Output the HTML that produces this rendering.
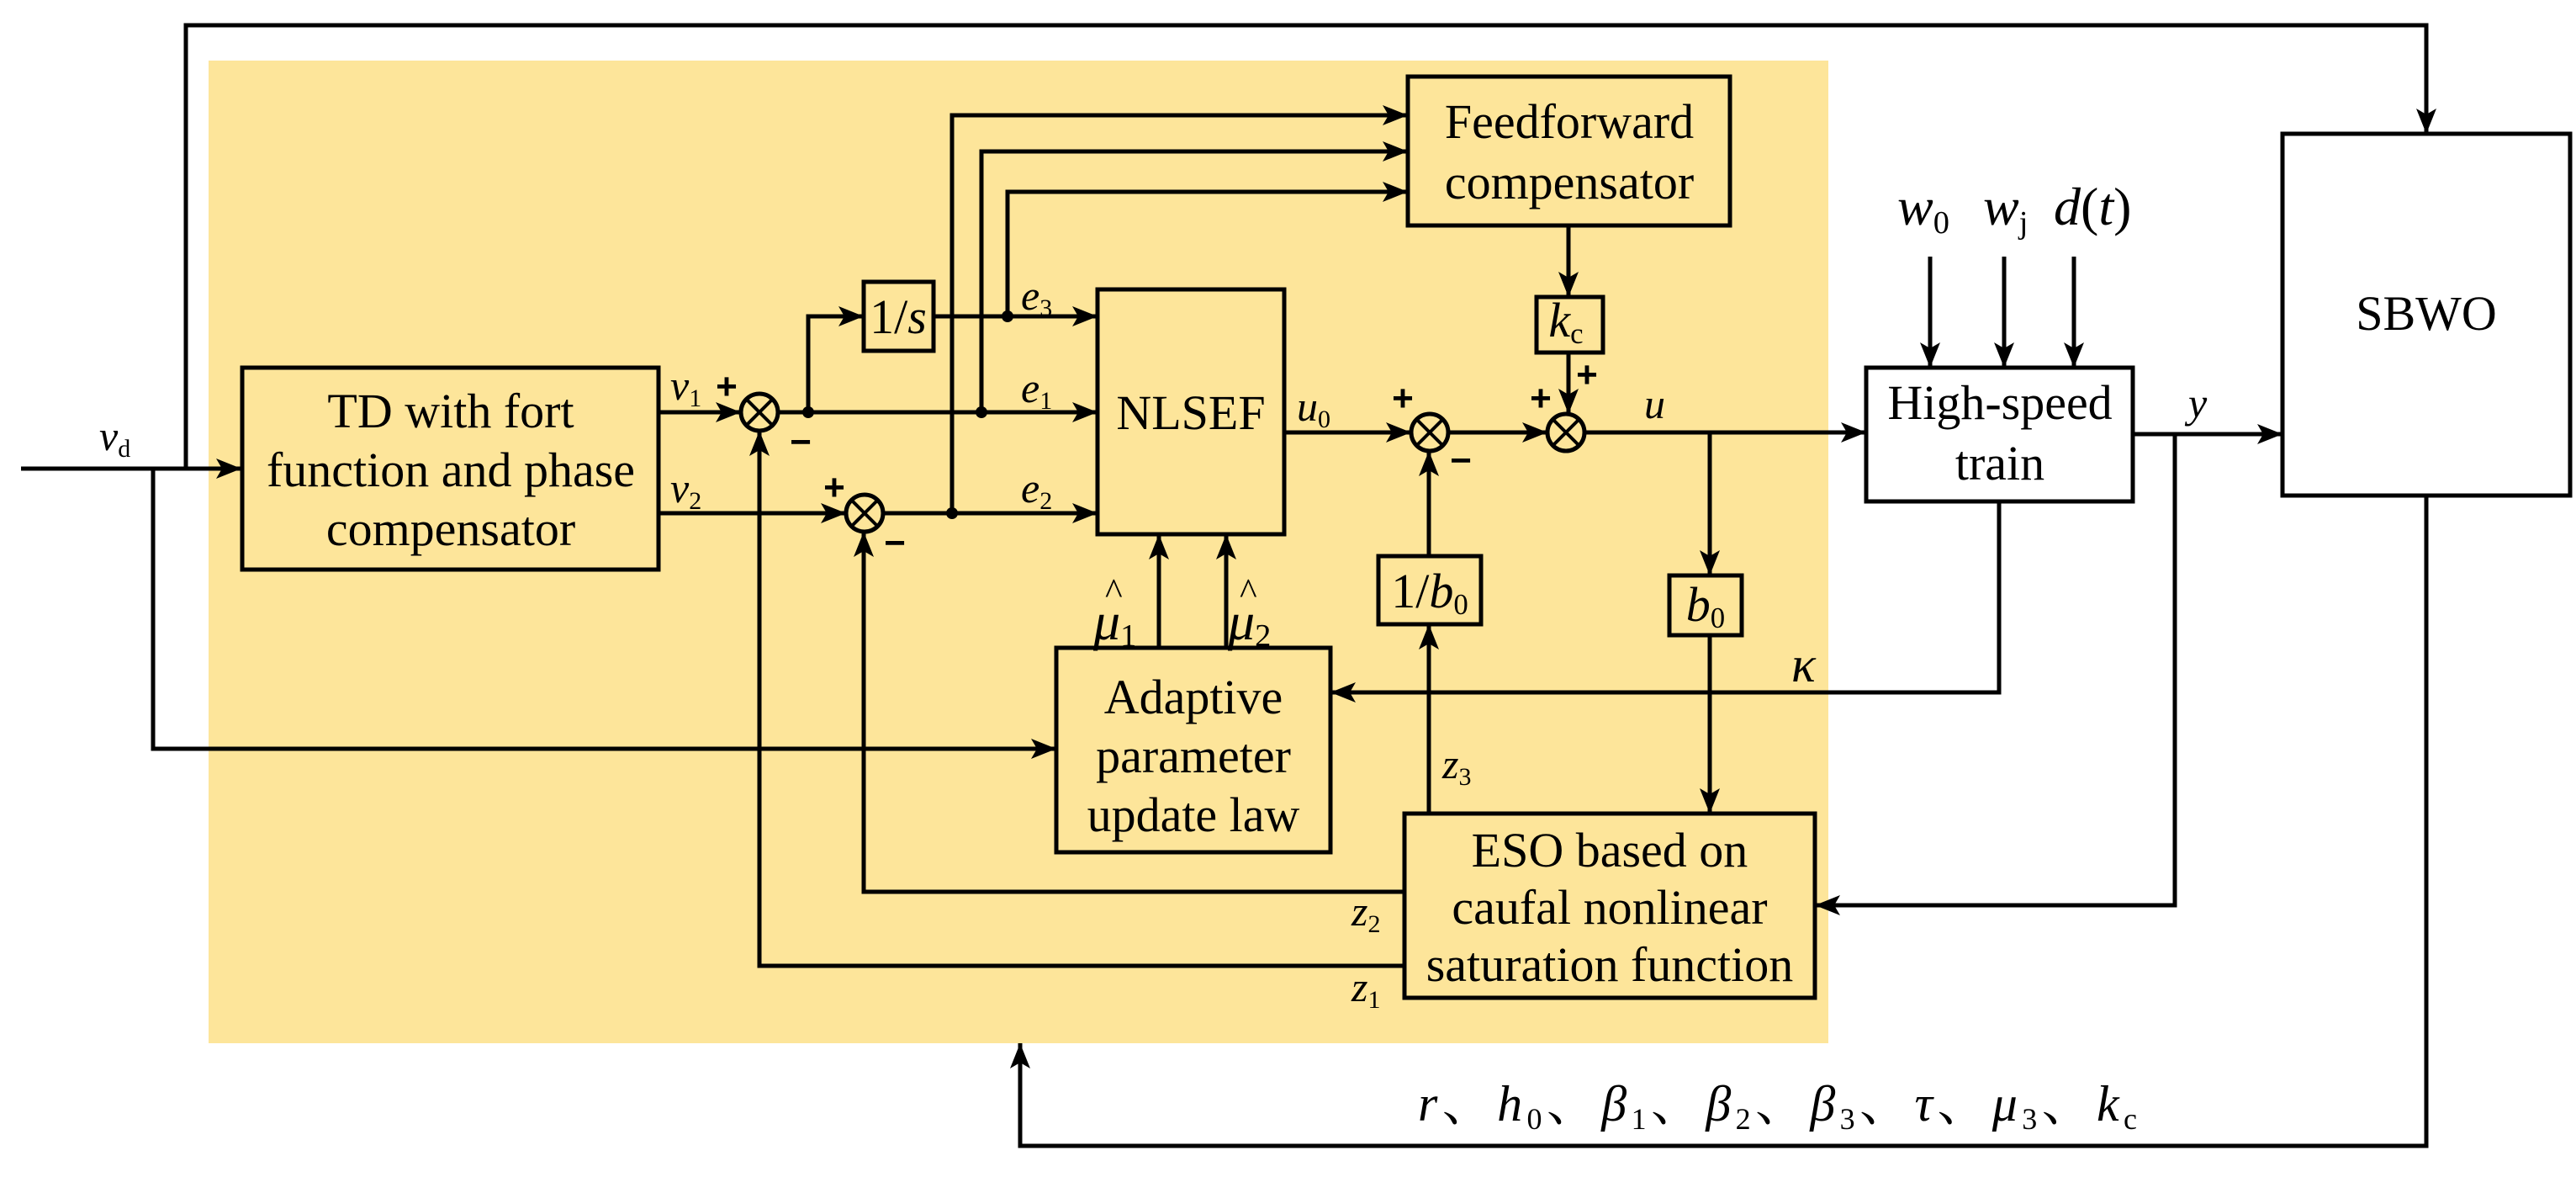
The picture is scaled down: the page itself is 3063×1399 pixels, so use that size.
<!DOCTYPE html>
<html><head><meta charset="utf-8"><style>
html,body{margin:0;padding:0;background:#fff;}
svg{display:block;}
text{font-family:"Liberation Serif","Times New Roman",Tinos,"Nimbus Roman","FreeSerif","DejaVu Serif","Noto Serif CJK SC",serif;fill:#000;}
.b{font-size:58px;text-anchor:middle;}
.i{font-style:italic;}
.s{font-size:60%;font-style:normal;}
.sg{font-family:"Liberation Sans",sans-serif;font-weight:bold;font-size:44px;text-anchor:middle;}
.cj{font-family:"Liberation Serif","Noto Serif CJK SC","Noto Sans CJK SC",serif;font-style:normal;}
</style></head><body>
<svg width="3063" height="1399" viewBox="0 0 3063 1399" xmlns="http://www.w3.org/2000/svg">
<defs>
<marker id="a" viewBox="0 0 30 24" refX="30" refY="12" markerWidth="30" markerHeight="24" markerUnits="userSpaceOnUse" orient="auto"><path d="M0,0 L30,12 L0,24 L7,12 Z" fill="#000"/></marker>
</defs>
<rect x="248" y="72" width="1926" height="1168" fill="#FDE59A"/>
<g stroke="#000" stroke-width="5" fill="none">
<polyline points="221,557 221,30 2885,30 2885,159" marker-end="url(#a)"/>
<line x1="25" y1="557" x2="287" y2="557" marker-end="url(#a)"/>
<polyline points="182,557 182,890 1256,890" marker-end="url(#a)"/>
<rect x="288" y="437" width="495" height="240" fill="#FDE59A"/>
<rect x="1027" y="335" width="83" height="82" fill="#FDE59A"/>
<rect x="1305" y="344" width="222" height="291" fill="#FDE59A"/>
<rect x="1674" y="91" width="383" height="177" fill="#FDE59A"/>
<rect x="1827" y="353" width="79" height="66" fill="#FDE59A"/>
<rect x="1639" y="661" width="122" height="81" fill="#FDE59A"/>
<rect x="1985" y="684" width="86" height="71" fill="#FDE59A"/>
<rect x="1256" y="770" width="326" height="243" fill="#FDE59A"/>
<rect x="1670" y="967" width="488" height="219" fill="#FDE59A"/>
<rect x="2219" y="437" width="317" height="159" fill="#fff"/>
<rect x="2714" y="159" width="342" height="430" fill="#fff"/>
<circle cx="903" cy="490" r="22"/><circle cx="1028" cy="610" r="22"/>
<circle cx="1700" cy="514" r="22"/><circle cx="1862" cy="514" r="22"/>
<g stroke-width="4">
<path d="M887,474 L919,506 M919,474 L887,506"/>
<path d="M1012,594 L1044,626 M1044,594 L1012,626"/>
<path d="M1684,498 L1716,530 M1716,498 L1684,530"/>
<path d="M1846,498 L1878,530 M1878,498 L1846,530"/>
</g>
<line x1="783" y1="490" x2="881" y2="490" marker-end="url(#a)"/>
<line x1="783" y1="610" x2="1006" y2="610" marker-end="url(#a)"/>
<line x1="925" y1="490" x2="1305" y2="490" marker-end="url(#a)"/>
<polyline points="961,490 961,376 1027,376" marker-end="url(#a)"/>
<line x1="1110" y1="376" x2="1305" y2="376" marker-end="url(#a)"/>
<line x1="1050" y1="610" x2="1305" y2="610" marker-end="url(#a)"/>
<polyline points="1132,610 1132,137 1674,137" marker-end="url(#a)"/>
<polyline points="1167,490 1167,180 1674,180" marker-end="url(#a)"/>
<polyline points="1198,376 1198,228 1674,228" marker-end="url(#a)"/>
<line x1="1527" y1="514" x2="1678" y2="514" marker-end="url(#a)"/>
<line x1="1722" y1="514" x2="1840" y2="514" marker-end="url(#a)"/>
<line x1="1865" y1="268" x2="1865" y2="353" marker-end="url(#a)"/>
<line x1="1865" y1="419" x2="1865" y2="492" marker-end="url(#a)"/>
<line x1="1884" y1="514" x2="2219" y2="514" marker-end="url(#a)"/>
<line x1="2033" y1="514" x2="2033" y2="684" marker-end="url(#a)"/>
<line x1="2033" y1="755" x2="2033" y2="967" marker-end="url(#a)"/>
<line x1="1699" y1="967" x2="1699" y2="742" marker-end="url(#a)"/>
<line x1="1699" y1="661" x2="1699" y2="536" marker-end="url(#a)"/>
<line x1="1378" y1="770" x2="1378" y2="635" marker-end="url(#a)"/>
<line x1="1458" y1="770" x2="1458" y2="635" marker-end="url(#a)"/>
<polyline points="2377,596 2377,823 1582,823" marker-end="url(#a)"/>
<line x1="2295" y1="305" x2="2295" y2="437" marker-end="url(#a)"/>
<line x1="2383" y1="305" x2="2383" y2="437" marker-end="url(#a)"/>
<line x1="2466" y1="305" x2="2466" y2="437" marker-end="url(#a)"/>
<line x1="2536" y1="516" x2="2714" y2="516" marker-end="url(#a)"/>
<polyline points="2586,516 2586,1076 2158,1076" marker-end="url(#a)"/>
<polyline points="1670,1060 1027,1060 1027,632" marker-end="url(#a)"/>
<polyline points="1670,1148 903,1148 903,512" marker-end="url(#a)"/>
<polyline points="2885,589 2885,1362 1213,1362 1213,1240" marker-end="url(#a)"/>
</g>
<g fill="#000"><circle cx="961" cy="490" r="7"/><circle cx="1167" cy="490" r="7"/><circle cx="1198" cy="376" r="7"/><circle cx="1132" cy="610" r="7"/></g>
<text class="sg" x="864" y="474">+</text><text class="sg" x="952" y="540">−</text>
<text class="sg" x="992" y="594">+</text><text class="sg" x="1064" y="660">−</text>
<text class="sg" x="1668" y="488">+</text><text class="sg" x="1737" y="562">−</text>
<text class="sg" x="1832" y="488">+</text><text class="sg" x="1887" y="460">+</text>
<text class="b" x="536" y="508">TD with fort</text>
<text class="b" x="536" y="578">function and phase</text>
<text class="b" x="536" y="648">compensator</text>
<text class="b" x="1068" y="396" font-size="54">1/<tspan class="i">s</tspan></text>
<text class="b" x="1416" y="510">NLSEF</text>
<text class="b" x="1866" y="164">Feedforward</text>
<text class="b" x="1866" y="236">compensator</text>
<text class="b i" x="1862" y="400">k<tspan class="s" dy="8">c</tspan></text>
<text class="b" x="1700" y="722">1/<tspan class="i">b</tspan><tspan class="s" dy="8">0</tspan></text>
<text class="b i" x="2028" y="738">b<tspan class="s" dy="8">0</tspan></text>
<text class="b" x="1419" y="848">Adaptive</text>
<text class="b" x="1419" y="918">parameter</text>
<text class="b" x="1419" y="988">update law</text>
<text class="b" x="1914" y="1030">ESO based on</text>
<text class="b" x="1914" y="1098">caufal nonlinear</text>
<text class="b" x="1914" y="1166">saturation function</text>
<text class="b" x="2378" y="498">High-speed</text>
<text class="b" x="2378" y="570">train</text>
<text class="b" x="2885" y="392">SBWO</text>
<g font-size="50" font-style="italic">
<text x="118" y="535">v<tspan class="s" dy="8">d</tspan></text>
<text x="797" y="475">v<tspan class="s" dy="8">1</tspan></text>
<text x="797" y="597">v<tspan class="s" dy="8">2</tspan></text>
<text x="1214" y="368">e<tspan class="s" dy="8">3</tspan></text>
<text x="1214" y="478">e<tspan class="s" dy="8">1</tspan></text>
<text x="1214" y="597">e<tspan class="s" dy="8">2</tspan></text>
<text x="1542" y="500">u<tspan class="s" dy="8">0</tspan></text>
<text x="1955" y="497">u</text>
<text x="2602" y="496">y</text>
<text x="1715" y="925">z<tspan class="s" dy="8">3</tspan></text>
<text x="1607" y="1100">z<tspan class="s" dy="8">2</tspan></text>
<text x="1607" y="1190">z<tspan class="s" dy="8">1</tspan></text>
<text x="1300" y="760" font-size="64">μ<tspan class="s" dy="8">1</tspan></text>
<text x="1314" y="718" font-size="44" font-style="normal">^</text>
<text x="1460" y="760" font-size="64">μ<tspan class="s" dy="8">2</tspan></text>
<text x="1474" y="718" font-size="44" font-style="normal">^</text>
<text x="2130" y="810" font-size="60">κ</text>
</g>
<g font-size="64" font-style="italic">
<text x="2256" y="267">w<tspan class="s" dy="10">0</tspan></text>
<text x="2358" y="267">w<tspan class="s" dy="10">j</tspan></text>
<text x="2442" y="267">d<tspan font-style="normal">(</tspan>t<tspan font-style="normal">)</tspan></text>
</g>
<text x="1686" y="1332" font-size="60" font-style="italic" textLength="855" lengthAdjust="spacing">r<tspan class="cj">、</tspan>h<tspan class="s" dy="10">0</tspan><tspan dy="-10" class="cj">、</tspan>β<tspan class="s" dy="10">1</tspan><tspan dy="-10" class="cj">、</tspan>β<tspan class="s" dy="10">2</tspan><tspan dy="-10" class="cj">、</tspan>β<tspan class="s" dy="10">3</tspan><tspan dy="-10" class="cj">、</tspan>τ<tspan class="cj">、</tspan>μ<tspan class="s" dy="10">3</tspan><tspan dy="-10" class="cj">、</tspan>k<tspan class="s" dy="10">c</tspan></text>
</svg>
</body></html>
